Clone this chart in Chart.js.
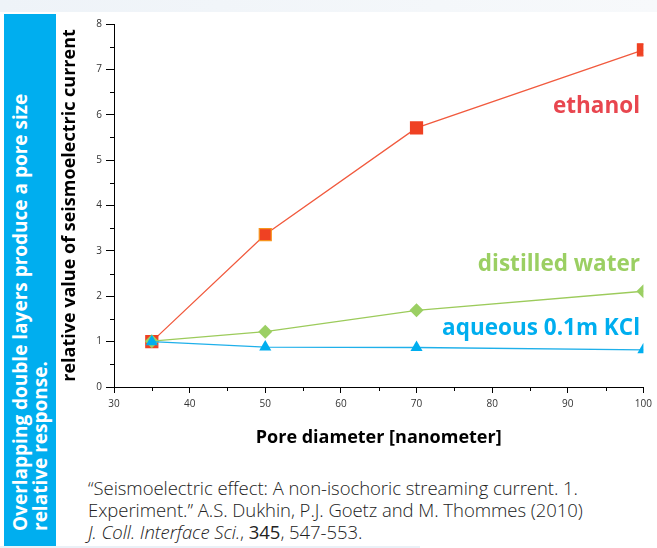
<!DOCTYPE html>
<html>
<head>
<meta charset="utf-8">
<script src="https://cdn.jsdelivr.net/npm/chart.js@4"></script>
<style>
  html, body { margin: 0; padding: 0; background: #fff; }
  #page { position: relative; width: 657px; height: 548px; overflow: hidden; background: #fff; font-family: "Open Sans", sans-serif; }
  #topstrip { position: absolute; left: 0; top: 0; width: 657px; height: 12px; background: linear-gradient(90deg, #eef3f8, #f7f9fb); }
  #bottomline { position: absolute; left: 0; top: 546px; width: 420px; height: 2px; background: #eaf1f7; }
  #banner { position: absolute; left: 4px; top: 14px; width: 52px; height: 534px; background: #00aeef; }
  #banner .txt { position: absolute; left: 0; top: 0; width: 480px; transform-origin: 0 0; transform: translate(7px, 517px) rotate(-90deg);
    color: #fff; font-family: "Open Sans", sans-serif; font-weight: 700; font-size: 19px; line-height: 19.5px; white-space: nowrap; }
  #chartbox { position: absolute; left: 0; top: 0; width: 657px; height: 460px; }
  .lbl { position: absolute; font-family: "Open Sans", sans-serif; font-weight: 700; font-size: 22.5px; white-space: nowrap; text-align: right; }
  #cite { position: absolute; left: 88px; top: 477px; font-family: "Open Sans", sans-serif; font-weight: 300; font-size: 18.5px; line-height: 22px; color: #222; white-space: nowrap; letter-spacing: -0.05px; }
</style>
</head>
<body>
<div id="page">
  <div id="topstrip"></div>
  <div id="banner"><div class="txt">Overlapping double layers produce a pore size<br>relative response.</div></div>
  <div id="chartbox"><canvas id="chart" width="657" height="460"></canvas></div>
  <div class="lbl" id="lbl-ethanol" style="right:17px; top:89px; color:#e8464f;">ethanol</div>
  <div class="lbl" id="lbl-water" style="right:17px; top:247px; color:#9bcf63;">distilled water</div>
  <div class="lbl" id="lbl-kcl" style="right:17px; top:311px; color:#00aeef;">aqueous 0.1m KCl</div>
  <div id="cite">“Seismoelectric effect: A non-isochoric streaming current. 1.<br>Experiment.” A.S. Dukhin, P.J. Goetz and M. Thommes (2010)<br><i>J. Coll. Interface Sci.</i>, <b>345</b>, 547-553.</div>
  <div id="bottomline"></div>
</div>
<script>
  // pore diameters (nm) and relative responses
  const poreDiameter = [35, 50, 70, 100];
  const ethanolValues = [1.0, 3.36, 5.71, 7.43];
  const waterValues = [1.01, 1.22, 1.69, 2.11];
  const kclValues = [1.0, 0.88, 0.87, 0.82];

  const xTicks = [30, 40, 50, 60, 70, 80, 90, 100];
  const yTicks = [0, 1, 2, 3, 4, 5, 6, 7, 8];
  const xMinor = [35, 45, 55, 65, 75, 85, 95];
  const yMinor = [0.5, 1.5, 2.5, 3.5, 4.5, 5.5, 6.5, 7.5];

  function toPoints(values) {
    return poreDiameter.map(function(x, i) { return { x: x, y: values[i] }; });
  }

  // short minor ticks, placed through the scales
  const minorTicks = {
    id: "minorTicks",
    afterDraw: function(chart) {
      const ctx = chart.ctx;
      const xs = chart.scales.x, ys = chart.scales.y;
      ctx.save();
      ctx.strokeStyle = "#000";
      ctx.lineWidth = 1;
      ctx.beginPath();
      yMinor.forEach(function(v) {
        const py = Math.round(ys.getPixelForValue(v)) + 0.5;
        ctx.moveTo(ys.right - 4, py);
        ctx.lineTo(ys.right, py);
      });
      xMinor.forEach(function(v) {
        const px = Math.round(xs.getPixelForValue(v)) + 0.5;
        ctx.moveTo(px, xs.top);
        ctx.lineTo(px, xs.top + 4);
      });
      ctx.stroke();
      ctx.restore();
    }
  };

  new Chart(document.getElementById("chart"), {
    type: "scatter",
    data: {
      datasets: [
        {
          label: "aqueous 0.1m KCl",
          data: toPoints(kclValues),
          showLine: true,
          borderColor: "#1fb0ea",
          backgroundColor: "#00aeef",
          borderWidth: 1.3,
          pointStyle: "triangle",
          pointRadius: 7,
          pointBorderWidth: 0,
          pointBackgroundColor: "#00aeef"
        },
        {
          label: "distilled water",
          data: toPoints(waterValues),
          showLine: true,
          borderColor: "#9ccb5b",
          backgroundColor: "#9bcf63",
          borderWidth: 1.3,
          pointStyle: "rectRot",
          pointRadius: 7,
          pointBorderWidth: 0,
          pointBackgroundColor: "#9bcf63"
        },
        {
          label: "ethanol",
          data: toPoints(ethanolValues),
          showLine: true,
          borderColor: "#f15a3e",
          backgroundColor: "#ef4123",
          borderWidth: 1.3,
          pointStyle: "rect",
          pointRadius: 8.5,
          pointBorderWidth: 1.2,
          pointBorderColor: ["#ef4123", "#f7941d", "#ef4123", "#ef4123"],
          pointBackgroundColor: "#ef4123"
        }
      ]
    },
    options: {
      responsive: false,
      animation: false,
      layout: { padding: { left: 59, right: 12, top: 24, bottom: 11 } },
      plugins: {
        legend: { display: false },
        tooltip: { enabled: false }
      },
      scales: {
        x: {
          type: "linear",
          min: 30, max: 100,
          afterBuildTicks: function(scale) { scale.ticks = xTicks.map(function(v) { return { value: v }; }); },
          afterFit: function(scale) { scale.height = 62; },
          border: { display: true, color: "#000", width: 1 },
          grid: { drawOnChartArea: false, drawTicks: true, tickLength: 6, color: "#000" },
          ticks: { color: "#333", font: { family: "Open Sans", size: 10 }, padding: 5, maxRotation: 0 },
          title: { display: true, text: "Pore diameter [nanometer]", color: "#000", padding: 0,
                   font: { family: "Open Sans", size: 18, weight: "bold", lineHeight: 1.2 } }
        },
        y: {
          type: "linear",
          min: 0, max: 8,
          afterBuildTicks: function(scale) { scale.ticks = yTicks.map(function(v) { return { value: v }; }); },
          afterFit: function(scale) { scale.width = 55; },
          border: { display: true, color: "#000", width: 1 },
          grid: { drawOnChartArea: false, drawTicks: true, tickLength: 8, color: "#000" },
          ticks: { color: "#333", font: { family: "Open Sans", size: 10 }, padding: 4 },
          title: { display: true, text: "relative value of seismoelectric current", color: "#000", padding: 0,
                   font: { family: "Open Sans", size: 18, weight: "bold", lineHeight: 1.2 } }
        }
      }
    },
    plugins: [minorTicks]
  });
</script>
</body>
</html>
